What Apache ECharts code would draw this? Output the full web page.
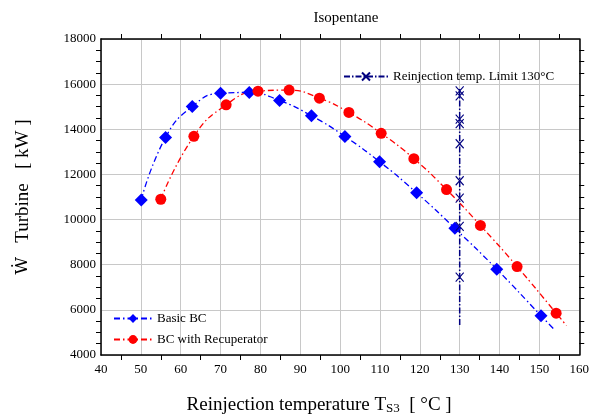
<!DOCTYPE html>
<html>
<head>
<meta charset="utf-8">
<script src="https://cdn.jsdelivr.net/npm/echarts@6/dist/echarts.min.js"></script>
<style>html,body{margin:0;padding:0;background:#fff}#c{width:592px;height:420px}</style>
</head>
<body>
<div id="c"></div>
<script>
// ---- data ----
var basicT = [50.1, 56.2, 62.9, 70.0, 77.2, 84.8, 92.8, 101.2, 109.9, 119.2, 128.8, 139.3, 150.4];
var basicW = [10870, 13640, 15010, 15600, 15630, 15275, 14600, 13685, 12560, 11185, 9610, 7800, 5740];
var basicEnd = [153.5, 5170];
var recT = [55.0, 63.3, 71.4, 79.4, 87.2, 94.8, 102.2, 110.3, 118.5, 126.7, 135.2, 144.4, 154.2];
var recW = [10900, 13690, 15085, 15690, 15735, 15380, 14745, 13820, 12700, 11330, 9740, 7920, 5855];
var recEnd = [156.8, 5300];
var limitT = 130;
var limitW = [15700, 15480, 14450, 14250, 13360, 11720, 10950, 9700, 7450];
var limitTop = 15780;
var limitBottom = 5300;
var xTicks = [40, 50, 60, 70, 80, 90, 100, 110, 120, 130, 140, 150, 160];

var F = 'Liberation Serif';
function pts(xs, ys) { return xs.map(function (x, i) { return [x, ys[i]]; }); }
var basicData = pts(basicT, basicW).concat([{ value: basicEnd, symbol: 'none' }]);
var recData = pts(recT, recW).concat([{ value: recEnd, symbol: 'none' }]);
var limitData = [{ value: [limitT, limitTop], symbol: 'none' }]
  .concat(limitW.map(function (w) { return [limitT, w]; }))
  .concat([{ value: [limitT, limitBottom], symbol: 'none' }]);

var crossPath = 'path://M0,0L10,12M10,0L0,12';
var axisLineStyle = { color: '#000', width: 1.5 };

var chart = echarts.init(document.getElementById('c'));
chart.setOption({
  animation: false,
  backgroundColor: '#fff',
  title: {
    text: 'Isopentane', left: 341, top: 6, textAlign: 'center',
    textStyle: { fontFamily: F, fontSize: 15, fontWeight: 'normal', color: '#000' }
  },
  grid: { left: 101, right: 11, top: 39, bottom: 64 },
  xAxis: [{
    type: 'value', min: 40, max: 160, interval: 10,
    name: '{a|Reinjection temperature T}{s|S3}{a|  [ °C ]}',
    nameLocation: 'middle', nameGap: 40,
    nameTextStyle: { padding: [0, 42, 0, 0], rich: {
      a: { fontFamily: F, fontSize: 19, color: '#000' },
      s: { fontFamily: F, fontSize: 13, color: '#000', verticalAlign: 'bottom', padding: [7, 0, 0, 0] }
    } },
    axisLine: { lineStyle: axisLineStyle },
    axisTick: { show: false },
    minorTick: { show: true, splitNumber: 2, length: 5, lineStyle: { color: '#000', width: 1 } },
    axisLabel: { inside: false, margin: 8, fontFamily: F, fontSize: 13, color: '#000',
      formatter: function (v) { return xTicks.indexOf(v) >= 0 ? String(v) : ''; } },
    splitLine: { show: true, lineStyle: { color: '#c8c8c8', width: 1 } }
  }, {
    type: 'value', min: 40, max: 160, interval: 10, position: 'top',
    axisLine: { lineStyle: axisLineStyle },
    axisTick: { show: false },
    minorTick: { show: true, splitNumber: 2, length: 5, lineStyle: { color: '#000', width: 1 } },
    axisLabel: { show: false }, splitLine: { show: false }
  }],
  yAxis: [{
    type: 'value', min: 4000, max: 18000, interval: 2000,
    name: '{w|Ẇ}{a|   Turbine   [ kW ]}', nameLocation: 'middle', nameGap: 64, nameRotate: 90,
    nameTextStyle: { rich: {
      w: { fontFamily: 'DejaVu Serif', fontSize: 17, color: '#000', lineHeight: 28 },
      a: { fontFamily: F, fontSize: 19, color: '#000', lineHeight: 28 }
    } },
    axisLine: { show: true, lineStyle: axisLineStyle },
    axisTick: { show: false },
    minorTick: { show: true, splitNumber: 4, length: 5, lineStyle: { color: '#000', width: 1 } },
    axisLabel: { margin: 5, fontFamily: F, fontSize: 13, color: '#000',
      formatter: function (v) { return String(v); } },
    splitLine: { show: true, lineStyle: { color: '#c8c8c8', width: 1 } }
  }, {
    type: 'value', min: 4000, max: 18000, interval: 2000, position: 'right',
    axisLine: { show: true, lineStyle: axisLineStyle },
    axisTick: { show: false },
    minorTick: { show: true, splitNumber: 4, length: 5, lineStyle: { color: '#000', width: 1 } },
    axisLabel: { show: false }, splitLine: { show: false }
  }],
  legend: [{
    data: ['Reinjection temp. Limit 130°C'],
    left: 338, top: 65, itemWidth: 44, itemHeight: 10,
    textStyle: { fontFamily: F, fontSize: 13, color: '#000' }
  }, {
    data: ['Basic BC', 'BC with Recuperator'],
    orient: 'vertical', left: 108, top: 307, itemWidth: 38, itemHeight: 11, itemGap: 8,
    textStyle: { fontFamily: F, fontSize: 13, color: '#000' }
  }],
  series: [{
    name: 'Basic BC', type: 'line', data: basicData, smooth: 0.5,
    symbol: 'diamond', symbolSize: 13,
    itemStyle: { color: '#0000ff' },
    lineStyle: { color: '#0000ff', width: 1.3, type: [6, 3, 1.5, 3] }
  }, {
    name: 'BC with Recuperator', type: 'line', data: recData, smooth: 0.5,
    symbol: 'circle', symbolSize: 11,
    itemStyle: { color: '#ff0000' },
    lineStyle: { color: '#ff0000', width: 1.3, type: [6, 3, 1.5, 3] }
  }, {
    name: 'Reinjection temp. Limit 130°C', type: 'line', data: limitData,
    symbol: crossPath, symbolSize: [8, 9],
    itemStyle: { color: 'rgba(0,0,0,0)', borderColor: '#000080', borderWidth: 1.2 },
    lineStyle: { color: '#000080', width: 1.5, type: [6, 2, 1.5, 2] }
  }]
});
</script>
</body>
</html>
